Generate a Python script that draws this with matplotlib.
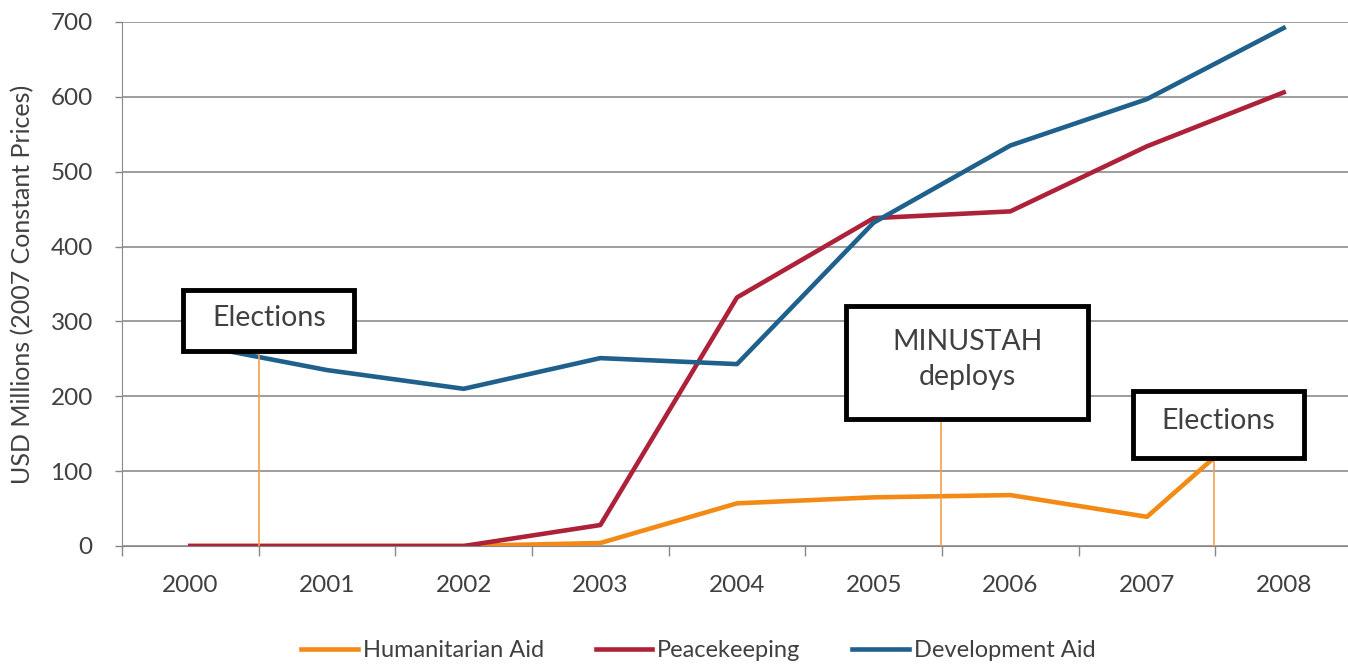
import matplotlib.pyplot as plt
from matplotlib.patches import Rectangle

years = ["2000", "2001", "2002", "2003", "2004", "2005", "2006", "2007", "2008"]
humanitarian = [0, 0, 0, 4, 57, 65, 68, 39, 200]
peacekeeping = [0, 0, 0, 28, 332, 438, 447, 534, 606]
development = [270, 235, 210, 251, 243, 432, 535, 597, 692]
y_ticks = [0, 100, 200, 300, 400, 500, 600, 700]

# annotation boxes: label, x of pointer line, box (x0, y0, w, h) in data units
notes = [
    ("Elections", 0.5, (-0.05, 260, 1.25, 82)),
    ("MINUSTAH\ndeploys", 5.49, (4.80, 170, 1.77, 150)),
    ("Elections", 7.49, (6.90, 118, 1.25, 89)),
]

plt.rcParams["font.family"] = ["Lato", "DejaVu Sans"]
fig = plt.figure(figsize=(13.48, 6.64), dpi=100)
ax = fig.add_axes([122 / 1348, 1 - 546 / 664, 1230 / 1348, 524 / 664])

x = list(range(len(years)))
ax.plot(x, humanitarian, color="#F38A16", lw=3.3, label="Humanitarian Aid", zorder=3, solid_joinstyle="round")
ax.plot(x, peacekeeping, color="#AE2239", lw=3.3, label="Peacekeeping", zorder=3, solid_joinstyle="round")
ax.plot(x, development, color="#1F608C", lw=3.3, label="Development Aid", zorder=3, solid_joinstyle="round")

ax.set_xlim(-0.5, 8.5)
ax.set_ylim(0, 700)
ax.set_yticks(y_ticks)
ax.set_xticks(x)
ax.set_xticklabels(years)
ax.set_xticks([i + 0.5 for i in range(-1, 9)], minor=True)
ax.tick_params(axis="x", which="major", length=0, pad=21, labelsize=17.5, labelcolor="#404040")
ax.tick_params(axis="x", which="minor", length=7, width=1, color="#888888", direction="out")
ax.tick_params(axis="y", length=5, width=1, color="#888888", labelsize=17.5, labelcolor="#404040", pad=16)
ax.yaxis.grid(True, color="#8c8c8c", lw=1.2)
ax.set_axisbelow(True)
for s in ["top", "right"]:
    ax.spines[s].set_visible(False)
ax.spines["left"].set_color("#888888")
ax.spines["bottom"].set_color("#888888")
ax.set_ylabel("USD Millions (2007 Constant Prices)", fontsize=18, color="#404040")
ax.yaxis.set_label_coords(-0.071, 0.5)

for label, px, (bx, by, bw, bh) in notes:
    ax.plot([px, px], [0, by], color="#F5A04A", lw=1.2, zorder=4)
    ax.add_patch(Rectangle((bx, by), bw, bh, facecolor="white", edgecolor="black", lw=3.5, zorder=5))
    ax.text(bx + bw / 2, by + bh / 2 + 4, label, ha="center", va="center", fontsize=20.5,
            color="#404040", zorder=6, linespacing=1.45)

fig.legend(loc="center", ncol=3, frameon=False, bbox_to_anchor=(0.518, 0.02),
           prop={"family": ["Liberation Sans Narrow", "Lato"], "size": 17},
           handlelength=2.4, handletextpad=0.2, columnspacing=2.2, labelcolor="#404040")

fig.savefig("out.png", dpi=100)
